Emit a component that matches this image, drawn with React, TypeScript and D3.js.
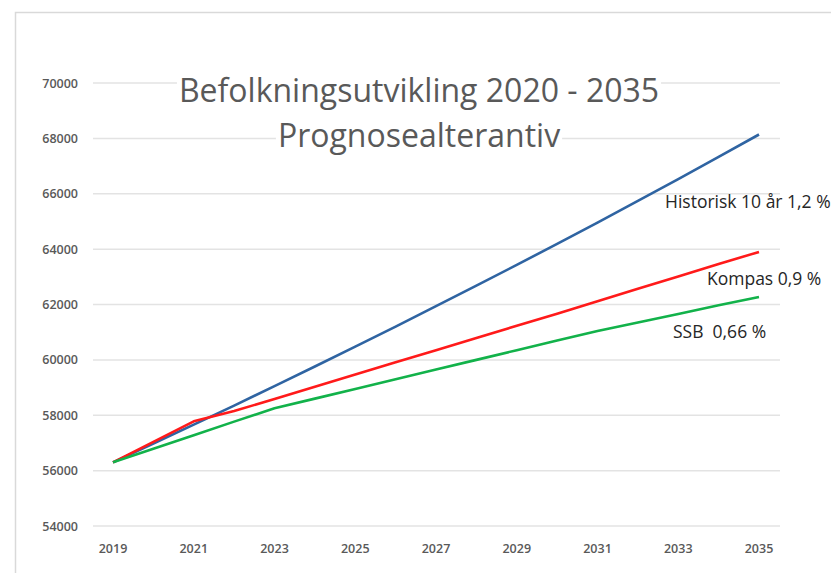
import React, { useEffect, useRef } from 'react';
import * as d3 from 'd3';

const years = [2019, 2020, 2021, 2022, 2023, 2024, 2025, 2026, 2027, 2028, 2029, 2030, 2031, 2032, 2033, 2034, 2035];
const historisk = [56300, 56980, 57660, 58350, 59050, 59760, 60480, 61200, 61940, 62680, 63430, 64190, 64960, 65740, 66530, 67330, 68140];
const kompas = [56300, 57040, 57780, 58150, 58590, 59030, 59470, 59910, 60350, 60790, 61230, 61670, 62120, 62570, 63010, 63460, 63900];
const ssb = [56300, 56790, 57280, 57770, 58250, 58600, 58950, 59300, 59650, 60000, 60350, 60700, 61040, 61350, 61660, 61970, 62270];
const yTicks = [54000, 56000, 58000, 60000, 62000, 64000, 66000, 68000, 70000];
const xTicks = [2019, 2021, 2023, 2025, 2027, 2029, 2031, 2033, 2035];
const seriesNames = ['Historisk 10 år 1,2 %', 'Kompas 0,9 %', 'SSB  0,66 %'];
const seriesColors = ['#2f64a2', '#ff1a1a', '#12b24a'];
const titleLines = ['Befolkningsutvikling 2020 - 2035', 'Prognosealterantiv'];

const W = 831, H = 573;

export default function App() {
  const ref = useRef<SVGSVGElement>(null);

  useEffect(() => {
    const svg = d3.select(ref.current);
    svg.selectAll('*').remove();

    const x = d3.scaleLinear().domain([2019, 2035]).range([113, 759]);
    const y = d3.scaleLinear().domain([54000, 70000]).range([526, 83]);
    const font = "'Open Sans', sans-serif";

    // outer frame (only left & top visible)
    svg.append('path')
      .attr('d', `M15.5,${H} V12.5 H${W}`)
      .attr('fill', 'none')
      .attr('stroke', '#d9d9d9')
      .attr('stroke-width', 1.5);

    // gridlines
    svg.append('g').selectAll('line').data(yTicks).enter().append('line')
      .attr('x1', 93).attr('x2', 780)
      .attr('y1', d => y(d)).attr('y2', d => y(d))
      .attr('stroke', '#e3e3e3').attr('stroke-width', 1.5);

    // y labels
    svg.append('g').selectAll('text').data(yTicks).enter().append('text')
      .attr('x', 78).attr('y', d => y(d) + 4.5)
      .attr('text-anchor', 'end')
      .attr('font-family', font).attr('font-size', 12.5).attr('font-weight', 600)
      .attr('fill', '#595959')
      .text(d => d);

    // x labels
    svg.append('g').selectAll('text').data(xTicks).enter().append('text')
      .attr('x', d => x(d)).attr('y', 553)
      .attr('text-anchor', 'middle')
      .attr('font-family', font).attr('font-size', 12.5).attr('font-weight', 600)
      .attr('fill', '#595959')
      .text(d => d);

    // title with white backing
    const tg = svg.append('g');
    const tys = [102, 147];
    titleLines.forEach((t, i) => {
      const bg = tg.append('rect').attr('fill', '#fff');
      const tx = tg.append('text')
        .attr('x', 419).attr('y', tys[i])
        .attr('text-anchor', 'middle')
        .attr('font-family', font).attr('font-size', 32)
        .attr('fill', '#595959')
        .text(t);
      const bb = (tx.node() as SVGTextElement).getBBox();
      bg.attr('x', bb.x - 2).attr('y', bb.y).attr('width', bb.width + 4).attr('height', bb.height);
    });

    // lines
    const line = d3.line<number>()
      .x((_, i) => x(years[i]))
      .y(d => y(d));
    [historisk, kompas, ssb].forEach((s, i) => {
      svg.append('path')
        .datum(s)
        .attr('d', line)
        .attr('fill', 'none')
        .attr('stroke', seriesColors[i])
        .attr('stroke-width', 2.6)
        .attr('stroke-linejoin', 'round');
    });

    // series labels
    const labelPos = [[665, 208], [707, 285], [673, 338]];
    seriesNames.forEach((n, i) => {
      svg.append('text')
        .attr('x', labelPos[i][0]).attr('y', labelPos[i][1])
        .attr('font-family', font).attr('font-size', 17.5)
        .attr('fill', '#262626')
        .style('white-space', 'pre')
        .text(n);
    });
  }, []);

  return (
    <svg ref={ref} width={W} height={H}
      style={{ position: 'absolute', left: 0, top: 0, background: '#fff' }} />
  );
}
